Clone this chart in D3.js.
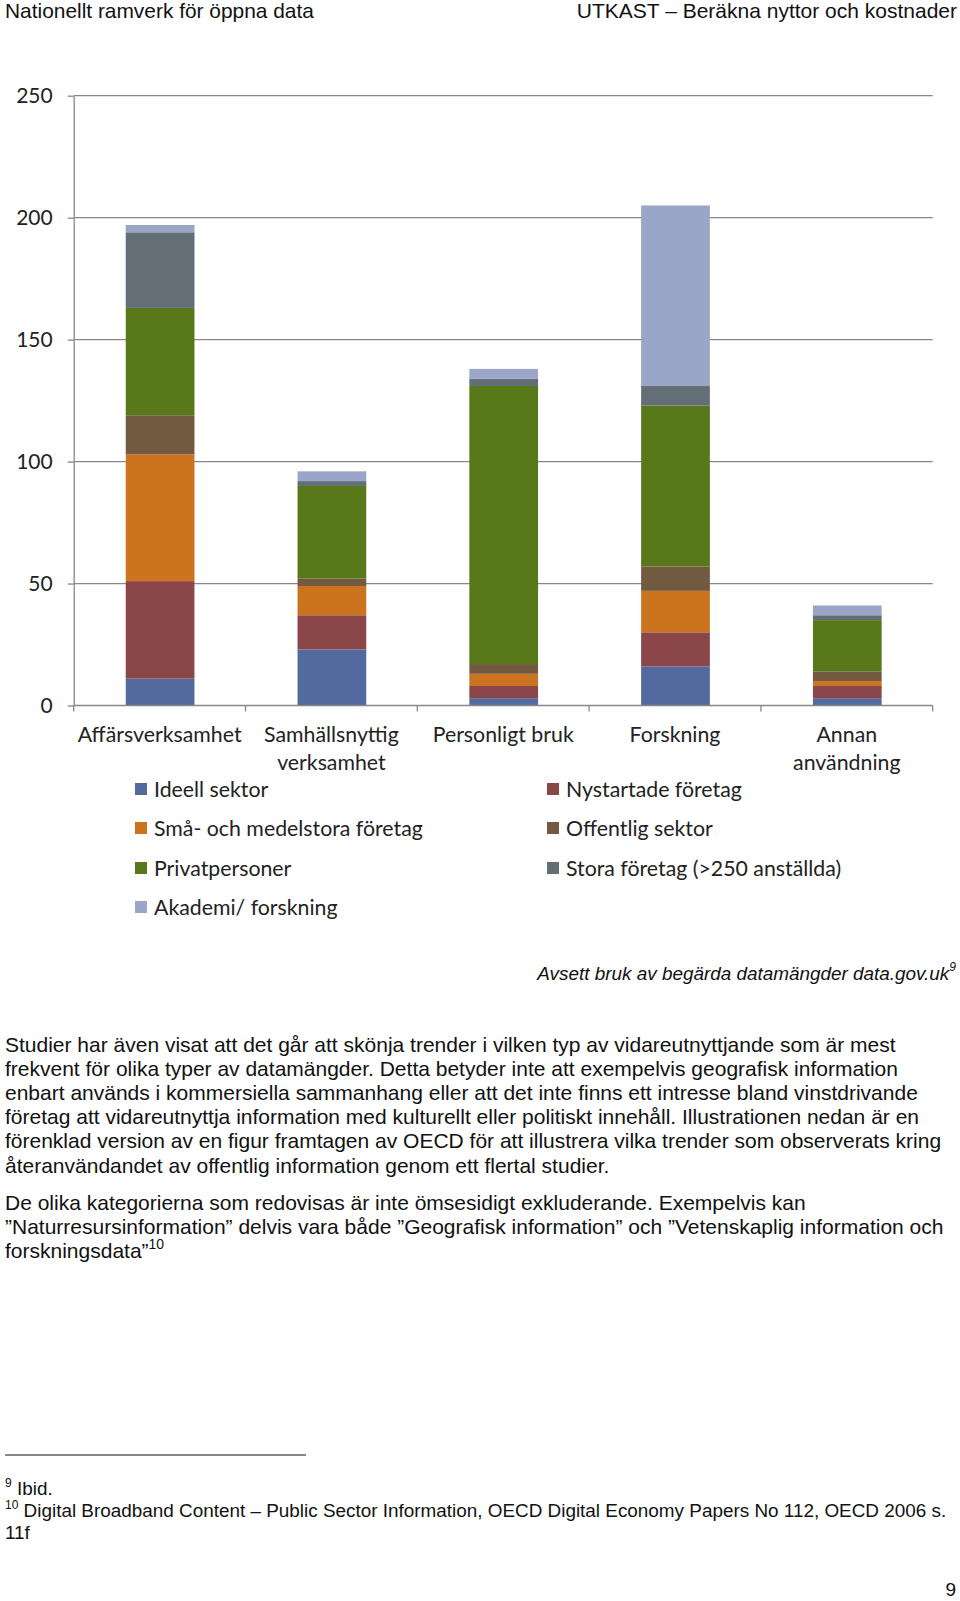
<!DOCTYPE html>
<html><head><meta charset="utf-8">
<script src="https://cdn.jsdelivr.net/npm/d3@7"></script>
<style>
body{margin:0;background:#fff;}
svg{display:block;}
</style></head>
<body>
<svg id="page" width="960" height="1601"></svg>
<script>
// ---- data ----
const categories = ["Affärsverksamhet", "Samhällsnyttig\nverksamhet", "Personligt bruk", "Forskning", "Annan\nanvändning"];
const seriesNames = ["Ideell sektor", "Nystartade företag", "Små- och medelstora företag", "Offentlig sektor", "Privatpersoner", "Stora företag (>250 anställda)", "Akademi/ forskning"];
const ideell      = [11, 23, 3, 16, 3];
const nystartade  = [40, 14, 5, 14, 5];
const smaMedel    = [52, 12, 5, 17, 2];
const offentlig   = [16, 3, 4, 10, 4];
const privat      = [44, 38, 114, 66, 21];
const stora       = [31, 2, 3, 8, 2];
const akademi     = [3, 4, 4, 74, 4];
const yTicks = [0, 50, 100, 150, 200, 250];
const colors = ["#536a9e", "#8b4649", "#cc7320", "#715a40", "#58781a", "#646e76", "#9aa5c8"];
const legendOrder = [0, 1, 2, 3, 4, 5, 6];

const headerLeft = "Nationellt ramverk för öppna data";
const headerRight = "UTKAST – Beräkna nyttor och kostnader";
const caption = "Avsett bruk av begärda datamängder data.gov.uk";
const para1 = [
 "Studier har även visat att det går att skönja trender i vilken typ av vidareutnyttjande som är mest",
 "frekvent för olika typer av datamängder. Detta betyder inte att exempelvis geografisk information",
 "enbart används i kommersiella sammanhang eller att det inte finns ett intresse bland vinstdrivande",
 "företag att vidareutnyttja information med kulturellt eller politiskt innehåll. Illustrationen nedan är en",
 "förenklad version av en figur framtagen av OECD för att illustrera vilka trender som observerats kring",
 "återanvändandet av offentlig information genom ett flertal studier."
];
const para2 = [
 "De olika kategorierna som redovisas är inte ömsesidigt exkluderande. Exempelvis kan",
 "”Naturresursinformation” delvis vara både ”Geografisk information” och ”Vetenskaplig information och",
 "forskningsdata”"
];

// ---- build ----
const seriesValues = [ideell, nystartade, smaMedel, offentlig, privat, stora, akademi];
const table = categories.map((c, i) => {
  const row = {cat: c};
  seriesNames.forEach((s, j) => row[s] = seriesValues[j][i]);
  return row;
});
const stacked = d3.stack().keys(seriesNames)(table);

const svg = d3.select("#page");
const chartFont = "Lato, 'Open Sans', sans-serif";
const textFont = "'Liberation Sans', Arial, sans-serif";

const pL = 73.7, pR = 932.7, pT = 95.7, pB = 705.5;
const x = d3.scaleBand().domain(categories).range([pL, pR]).paddingInner(0.6).paddingOuter(0.3);
const y = d3.scaleLinear().domain([0, 250]).range([pB, pT]);
const gridColor = "#878787";

// gridlines
svg.append("g").selectAll("line").data(yTicks.filter(t => t > 0)).join("line")
  .attr("x1", pL).attr("x2", pR)
  .attr("y1", d => y(d)).attr("y2", d => y(d))
  .attr("stroke", gridColor).attr("stroke-width", 1.3);

// y axis
const yAxis = svg.append("g").attr("transform", `translate(${pL},0)`)
  .call(d3.axisLeft(y).tickValues(yTicks).tickSize(6).tickPadding(15).tickSizeOuter(0));
yAxis.select(".domain").attr("stroke", gridColor).attr("stroke-width", 1.3);
yAxis.selectAll(".tick line").attr("stroke", gridColor).attr("stroke-width", 1.3);
yAxis.selectAll("text").attr("font-family", chartFont).attr("font-size", 21).attr("fill", "#222");

// bars
svg.append("g").selectAll("g").data(stacked).join("g")
  .attr("fill", (d, i) => colors[i])
  .selectAll("rect").data(d => d).join("rect")
  .attr("x", d => x(d.data.cat) + 0.5)
  .attr("width", x.bandwidth())
  .attr("y", d => y(d[1]))
  .attr("height", d => y(d[0]) - y(d[1]));

// x axis line and boundary ticks
const step = x.step();
const boundaries = d3.range(categories.length + 1).map(i => pL + i * step);
svg.append("line").attr("x1", pL).attr("x2", pR).attr("y1", pB).attr("y2", pB)
  .attr("stroke", gridColor).attr("stroke-width", 1.3);
svg.append("g").selectAll("line").data(boundaries).join("line")
  .attr("x1", d => d).attr("x2", d => d).attr("y1", pB).attr("y2", pB + 6)
  .attr("stroke", gridColor).attr("stroke-width", 1.3);

// x labels
const xl = svg.append("g").selectAll("text").data(categories).join("text")
  .attr("x", d => x(d) + x.bandwidth() / 2)
  .attr("y", pB + 36.5)
  .attr("text-anchor", "middle")
  .attr("font-family", chartFont).attr("font-size", 21.3).attr("fill", "#222");
xl.selectAll("tspan").data(d => d.split("\n")).join("tspan")
  .attr("x", function() { return d3.select(this.parentNode).attr("x"); })
  .attr("dy", (d, i) => i === 0 ? 0 : 28.3)
  .text(d => d);

// legend
const legendPos = [
  [135, 789], [547, 789],
  [135, 828], [547, 828],
  [135, 868], [547, 868],
  [135, 907]
];
const lg = svg.append("g").selectAll("g").data(legendOrder).join("g")
  .attr("transform", (d, i) => `translate(${legendPos[i][0]},${legendPos[i][1]})`);
lg.append("rect").attr("x", 0).attr("y", -6).attr("width", 12).attr("height", 12).attr("fill", d => colors[d]);
lg.append("text").attr("x", 19).attr("y", 7.5).attr("font-family", chartFont).attr("font-size", 21.3).attr("fill", "#222")
  .text(d => seriesNames[d]);

// header
svg.append("text").attr("x", 5).attr("y", 18).attr("font-family", textFont).attr("font-size", 20.9).attr("fill", "#111").text(headerLeft);
svg.append("text").attr("x", 957).attr("y", 18).attr("text-anchor", "end").attr("font-family", textFont).attr("font-size", 21).attr("fill", "#111").text(headerRight);

// caption
const cap = svg.append("text").attr("x", 956).attr("y", 980).attr("text-anchor", "end")
  .attr("font-family", textFont).attr("font-size", 18.9).attr("font-style", "italic").attr("fill", "#111");
cap.append("tspan").text(caption);
cap.append("tspan").attr("font-size", 12).attr("dy", -9).text("9");

// paragraphs
svg.append("g").selectAll("text").data(para1).join("text")
  .attr("x", 5).attr("y", (d, i) => 1052 + i * 24.1)
  .attr("font-family", textFont).attr("font-size", 21).attr("fill", "#111").text(d => d);
const p2 = svg.append("g").selectAll("text").data(para2).join("text")
  .attr("x", 5).attr("y", (d, i) => 1210 + i * 24.1)
  .attr("font-family", textFont).attr("font-size", 21).attr("fill", "#111");
p2.append("tspan").text(d => d);
p2.filter((d, i) => i === para2.length - 1).append("tspan").attr("font-size", 14).attr("dy", -9).text("10");

// footnotes
svg.append("line").attr("x1", 5).attr("x2", 306).attr("y1", 1455).attr("y2", 1455).attr("stroke", "#111").attr("stroke-width", 1);
const f1 = svg.append("text").attr("x", 5).attr("y", 1495).attr("font-family", textFont).attr("font-size", 18.9).attr("fill", "#111");
f1.append("tspan").attr("font-size", 12).attr("dy", -8).text("9");
f1.append("tspan").attr("dy", 8).text(" Ibid.");
const f2 = svg.append("text").attr("x", 5).attr("y", 1517).attr("font-family", textFont).attr("font-size", 18.9).attr("fill", "#111");
f2.append("tspan").attr("font-size", 12).attr("dy", -8).text("10");
f2.append("tspan").attr("dy", 8).text(" Digital Broadband Content – Public Sector Information, OECD Digital Economy Papers No 112, OECD 2006 s.");
svg.append("text").attr("x", 5).attr("y", 1539).attr("font-family", textFont).attr("font-size", 18.9).attr("fill", "#111").text("11f");

// page number
svg.append("text").attr("x", 956).attr("y", 1596).attr("text-anchor", "end").attr("font-family", textFont).attr("font-size", 19).attr("fill", "#111").text("9");
</script>
</body></html>
